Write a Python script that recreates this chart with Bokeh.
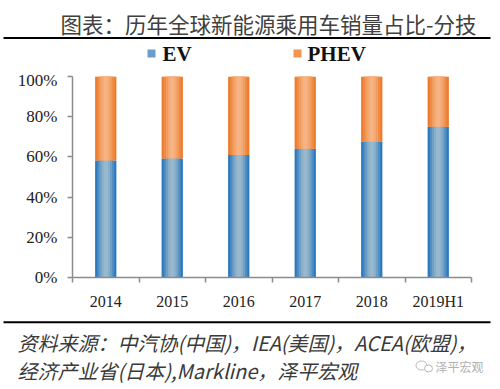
from bokeh.plotting import figure
from bokeh.layouts import column
from bokeh.models import ColumnDataSource, Range1d, FixedTicker, NumeralTickFormatter
from bokeh.core.properties import value
from bokeh.embed import file_html
from bokeh.resources import INLINE

# ---- data ----
categories = ["2014", "2015", "2016", "2017", "2018", "2019H1"]
ev_share = [0.582, 0.592, 0.610, 0.640, 0.675, 0.750]
phev_share = [0.418, 0.408, 0.390, 0.360, 0.325, 0.250]
y_ticks = [0, 0.2, 0.4, 0.6, 0.8, 1.0]
series_names = ["EV", "PHEV"]
title_text = "图表：历年全球新能源乘用车销量占比-分技"
source_line1 = "资料来源：中汽协(中国)，IEA(美国)，ACEA(欧盟)，"
source_line2 = "经济产业省(日本),Markline，泽平宏观"
watermark = "泽平宏观"

W = 500
HEAD_H, MAIN_H, FOOT_H = 70, 248, 71
CJK = "Noto Sans CJK SC"
SERIF = "Liberation Serif"


def blank_fig(h):
    f = figure(width=W, height=h, output_backend="svg", toolbar_location=None,
               x_range=Range1d(0, W), y_range=Range1d(h, 0),
               x_axis_location=None, y_axis_location=None,
               min_border=0, min_border_left=0, min_border_right=0,
               min_border_top=0, min_border_bottom=0, frame_align=False)
    f.outline_line_color = None
    f.grid.grid_line_color = None
    f.background_fill_color = "white"
    f.border_fill_color = "white"
    return f


# ---- header: title, rule, legend ----
head = blank_fig(HEAD_H)
head.text(x=[60], y=[23], text=[title_text], text_font=value(CJK), text_font_size="21.5px",
          text_color="#404040", text_baseline="middle", text_align="left")
head.quad(left=[3], right=[490], top=[36.6], bottom=[38.6], fill_color="black", line_color=None)
leg_sq_x = [147, 293]
leg_tx_x = [162, 307]
leg_cols = ["#6A9DC9", "#F09650"]
head.quad(left=leg_sq_x, right=[x + 8 for x in leg_sq_x], top=[49] * 2, bottom=[57] * 2,
          fill_color=leg_cols, line_color=None)
head.text(x=leg_tx_x, y=[53.5] * 2, text=series_names, text_font=value(SERIF),
          text_font_style="bold", text_font_size="21px", text_color="#111111",
          text_baseline="middle", text_align="left")

# ---- main chart ----
p = figure(width=W, height=MAIN_H, output_backend="svg", toolbar_location=None,
           x_range=Range1d(0, len(categories)), y_range=Range1d(0, 1),
           min_border_left=72, min_border_right=29, min_border_top=6, min_border_bottom=41,
           frame_align=False)
p.outline_line_color = None
p.grid.grid_line_color = None
p.background_fill_color = "white"
p.border_fill_color = "white"

xs = [i + 0.5 for i in range(len(categories))]
phev_top = [a + b for a, b in zip(ev_share, phev_share)]
src = ColumnDataSource(dict(x=xs, ev_top=ev_share, pb=ev_share, pt=phev_top))

bar_w = 0.32
blue_layers = ["#2C78BE", "#4E8CC2", "#6E9FC6", "#88AFCA", "#98B8CD"]
orange_layers = ["#EC7C2C", "#EF8B45", "#F29C5E", "#F4A974", "#F6B384"]
fracs = [1.0, 0.8, 0.6, 0.4, 0.2]
for f, cb, co in zip(fracs, blue_layers, orange_layers):
    p.vbar(x="x", bottom=0, top="ev_top", width=bar_w * f, source=src,
           fill_color=cb, line_color=None)
    p.vbar(x="x", bottom="pb", top="pt", width=bar_w * f, source=src,
           fill_color=co, line_color=None)

axis_col = "#8C8C8C"
xa = p.xaxis[0]
xa.ticker = FixedTicker(ticks=xs, minor_ticks=list(range(len(categories) + 1)))
xa.major_label_overrides = {x: c for x, c in zip(xs, categories)}
xa.major_tick_out = 0
xa.major_tick_in = 0
xa.minor_tick_out = 5
xa.minor_tick_in = 0
xa.minor_tick_line_color = axis_col
xa.minor_tick_line_width = 1.5
xa.axis_line_color = axis_col
xa.axis_line_width = 1.5
xa.major_label_text_font = SERIF
xa.major_label_text_font_size = "16px"
xa.major_label_text_color = "#222222"
xa.major_label_standoff = 10

ya = p.yaxis[0]
ya.ticker = FixedTicker(ticks=y_ticks, minor_ticks=[])
ya.formatter = NumeralTickFormatter(format="0%")
ya.major_tick_out = 5
ya.major_tick_in = 0
ya.minor_tick_out = 0
ya.minor_tick_in = 0
ya.major_tick_line_color = axis_col
ya.major_tick_line_width = 1.5
ya.axis_line_color = axis_col
ya.axis_line_width = 1.5
ya.major_label_text_font = SERIF
ya.major_label_text_font_size = "17px"
ya.major_label_text_color = "#222222"
ya.major_label_standoff = 10

# ---- footer: rule, source, watermark ----
foot = blank_fig(FOOT_H)
foot.quad(left=[3], right=[490], top=[2.7], bottom=[4.7], fill_color="black", line_color=None)
foot.text(x=[17, 17], y=[23.7, 52], text=[source_line1, source_line2], text_font=value(CJK),
          text_font_style="italic", text_font_size="20px", text_color="#3A3A3A",
          text_baseline="middle", text_align="left")
foot.ellipse(x=[421, 428], y=[47, 50], width=[11, 8], height=[9, 7], fill_color="white",
             line_color="#B8B8B8", line_width=1)
foot.text(x=[435], y=[48], text=[watermark], text_font=value(CJK), text_font_size="12px",
          text_color="#B0B0B0", text_baseline="middle", text_align="left")

layout = column(head, p, foot, spacing=0)
open("out.html", "w").write(file_html(layout, INLINE))
